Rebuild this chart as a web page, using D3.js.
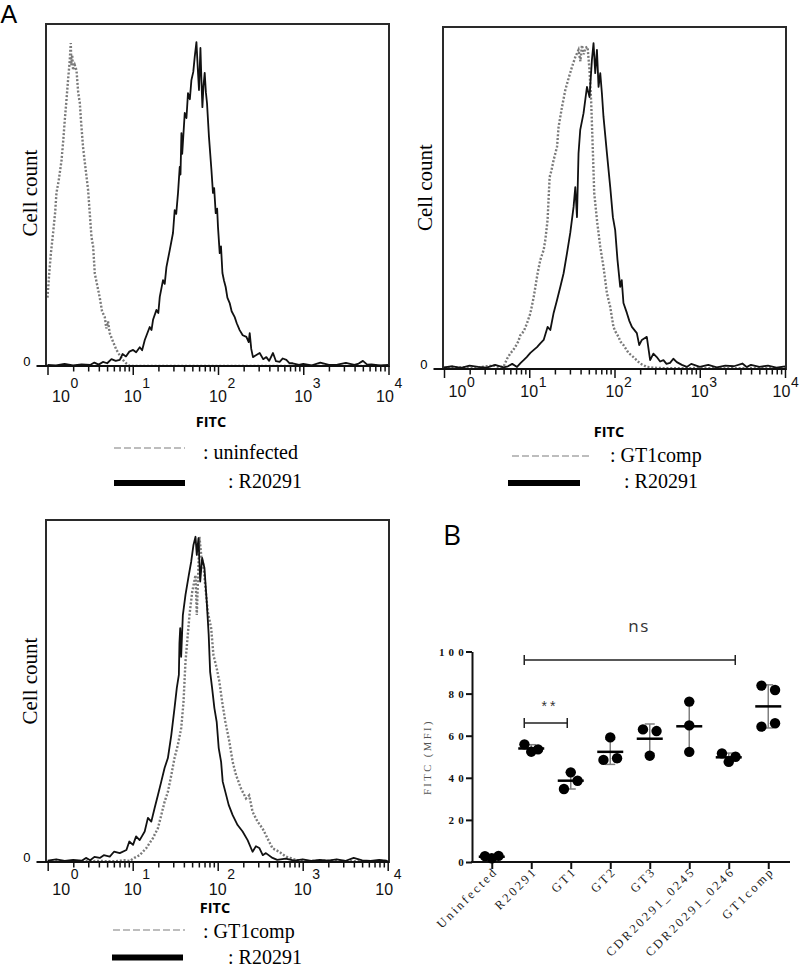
<!DOCTYPE html>
<html><head><meta charset="utf-8">
<script src="https://cdn.jsdelivr.net/npm/d3@7"></script>
<style>body{margin:0;background:#fff;}svg{display:block;}</style>
</head><body>
<svg id="c" width="800" height="968"></svg>
<script>
// ---------- DATA ----------
// Histogram curves: [log10(FITC), relative cell count (0-100 of frame height)]
const p1Uninfected = [[0.00,20],[0.02,27],[0.04,33],[0.066,39],[0.09,45],[0.105,50.6],[0.13,54],[0.164,60],[0.185,66],[0.203,72],[0.22,77],[0.241,83.6],[0.26,89],[0.273,94.4],[0.28,88],[0.29,91],[0.300,86.5],[0.32,88],[0.340,86.5],[0.36,80],[0.379,76.9],[0.395,71],[0.417,64],[0.445,58],[0.476,51.5],[0.516,37.7],[0.535,35],[0.555,27],[0.58,24],[0.613,20],[0.64,16],[0.672,14.3],[0.69,11],[0.71,13],[0.730,9.6],[0.77,7],[0.809,4.7],[0.85,3],[0.883,1.8],[0.93,0.6],[0.965,0],[4.0,0]];
const p1R20291 = [[0.0,0.3],[0.1,0.2],[0.2,0.6],[0.3,0.2],[0.4,0.5],[0.5,0.3],[0.55,1.0],[0.6,0.4],[0.65,1.2],[0.7,0.8],[0.75,2.0],[0.8,1.5],[0.848,1.8],[0.88,3.5],[0.92,2.8],[0.96,4.2],[1.004,4.7],[1.04,4.0],[1.082,5.5],[1.11,4.6],[1.141,7.6],[1.17,9.5],[1.199,11.4],[1.22,10.5],[1.238,13.5],[1.278,16.4],[1.30,15.5],[1.317,20.2],[1.355,25.1],[1.375,24],[1.395,28.9],[1.434,33.9],[1.472,38.9],[1.492,45.6],[1.51,44.5],[1.531,50.6],[1.551,58.2],[1.56,56],[1.571,68.1],[1.58,62],[1.610,74],[1.63,72.5],[1.648,79.8],[1.67,78],[1.688,83.6],[1.71,86],[1.727,90.4],[1.747,94.7],[1.765,86],[1.777,80.7],[1.794,93],[1.805,84],[1.817,75.7],[1.83,82],[1.844,85.7],[1.858,80],[1.871,76.9],[1.894,67],[1.923,57.3],[1.941,50.6],[1.955,52],[1.973,44.7],[1.99,46],[2.000,40.6],[2.020,33],[2.035,35],[2.052,27.2],[2.070,25],[2.090,23.1],[2.11,20],[2.137,18.4],[2.16,16],[2.196,14.3],[2.22,12.5],[2.254,10.5],[2.29,9],[2.333,8.5],[2.36,7],[2.372,9.6],[2.39,5],[2.410,2.6],[2.45,3.2],[2.489,3.8],[2.53,2.0],[2.567,2.6],[2.60,1.5],[2.645,3.8],[2.68,1.4],[2.723,1.2],[2.76,2.2],[2.802,1.8],[2.84,0.8],[2.876,0.8],[2.95,0.3],[3.0,0.6],[3.1,0.2],[3.2,1.0],[3.3,0.3],[3.4,0.4],[3.5,0.9],[3.6,0.3],[3.65,0.7],[3.7,1.5],[3.75,0.4],[3.8,0.5],[3.9,0.2],[4.0,0.3]];
const p2GT1comp = [[0.0,0.3],[0.2,0.5],[0.35,0.3],[0.5,0.8],[0.6,1.0],[0.65,0.5],[0.700,0.7],[0.74,3],[0.779,4.6],[0.81,5.5],[0.837,6.5],[0.87,8],[0.896,9.9],[0.935,11],[0.974,13.4],[1.013,16.3],[1.052,21],[1.098,28],[1.130,31.9],[1.169,34.8],[1.19,38],[1.215,43.6],[1.239,56.1],[1.26,58],[1.286,61.1],[1.326,65],[1.344,70.8],[1.384,76.6],[1.423,81.6],[1.461,85],[1.501,88.3],[1.540,91.2],[1.578,93.3],[1.60,90],[1.618,94.7],[1.64,92],[1.657,93.9],[1.684,94.2],[1.707,87.4],[1.727,77.7],[1.747,63.1],[1.762,51.5],[1.794,43.6],[1.833,35.7],[1.871,29.8],[1.911,22.2],[1.950,18.1],[1.988,12.3],[2.01,11],[2.047,9.4],[2.07,8],[2.105,7],[2.164,4.7],[2.222,3.5],[2.301,1.6],[2.379,0.6],[2.5,0.3],[2.7,0.2],[3.0,0.3],[3.3,0.2],[3.6,0.3],[4.0,0.2]];
const p2R20291 = [[0.0,0.5],[0.1,0.8],[0.2,0.3],[0.3,1.0],[0.4,0.6],[0.5,0.4],[0.6,1.2],[0.7,0.5],[0.75,0.8],[0.8,1.5],[0.857,0.6],[0.9,1.8],[0.934,2.6],[0.97,3.5],[1.013,4.7],[1.05,5.5],[1.091,6.4],[1.13,7.5],[1.169,8.5],[1.215,12.3],[1.247,11.4],[1.286,16.4],[1.326,20.2],[1.364,24],[1.403,28],[1.443,33.9],[1.481,39.8],[1.520,47.4],[1.540,53.2],[1.560,44.4],[1.578,63.1],[1.598,69.9],[1.637,74.8],[1.677,82.5],[1.707,79.5],[1.735,90.4],[1.754,95.3],[1.774,86.5],[1.794,93.3],[1.813,82.5],[1.833,86.5],[1.852,80.7],[1.871,73.7],[1.911,63.1],[1.950,53.2],[1.981,44.4],[2.008,40.6],[2.035,31.9],[2.067,24],[2.085,26],[2.105,19.3],[2.145,16.4],[2.175,14],[2.204,12.3],[2.262,10.5],[2.29,7],[2.321,8.5],[2.379,9.4],[2.418,2.6],[2.456,4.5],[2.496,3.5],[2.535,2.2],[2.574,2.6],[2.61,1.5],[2.652,1.8],[2.69,3.0],[2.731,2.0],[2.79,1.2],[2.848,0.6],[2.9,1.5],[3.0,0.6],[3.1,1.2],[3.2,0.5],[3.3,1.0],[3.4,0.8],[3.5,1.6],[3.55,0.6],[3.6,1.2],[3.7,0.6],[3.8,1.0],[3.9,0.4],[4.0,0.8]];
const p3GT1comp = [[0.0,0.2],[0.3,0.1],[0.6,0.3],[0.8,0.2],[0.9,0.5],[0.965,0.3],[1.02,1.2],[1.082,2],[1.161,4.1],[1.238,7],[1.297,9.9],[1.336,13.7],[1.375,17.6],[1.414,20.5],[1.454,25.4],[1.492,30.4],[1.531,34.2],[1.571,39.2],[1.598,46.9],[1.621,58.6],[1.641,64.4],[1.668,72.2],[1.700,79],[1.739,83.9],[1.754,72.2],[1.770,83.9],[1.785,95.1],[1.809,88.9],[1.832,86.8],[1.856,80.1],[1.883,73.2],[1.923,68.4],[1.950,60.5],[1.988,56.7],[2.020,52.7],[2.052,46.9],[2.090,41],[2.137,35.2],[2.176,29.3],[2.216,25.4],[2.274,21.5],[2.333,18.6],[2.37,19.5],[2.410,14.7],[2.469,11.8],[2.528,9.8],[2.586,6.9],[2.645,4],[2.723,3],[2.802,1.6],[2.919,0.6],[3.0,0.2],[3.3,0.4],[3.6,0.2],[4.0,0.3]];
const p3R20291 = [[0.0,0.4],[0.1,0.8],[0.2,0.3],[0.3,0.6],[0.4,0.4],[0.45,1.2],[0.5,0.5],[0.55,1.5],[0.613,1.2],[0.66,2.0],[0.730,1.6],[0.78,3.0],[0.848,2.6],[0.926,3.5],[0.96,6.0],[1.004,5.0],[1.04,7.5],[1.082,6.4],[1.141,8.9],[1.179,12.9],[1.219,11.8],[1.258,15.8],[1.297,19.6],[1.336,23.5],[1.375,27.5],[1.414,30.4],[1.454,37.1],[1.492,45],[1.519,50.9],[1.543,54.7],[1.550,64],[1.559,68.4],[1.57,60],[1.590,72.2],[1.621,78.1],[1.660,83.9],[1.688,87.8],[1.715,92.7],[1.739,95.1],[1.754,89.8],[1.774,94.7],[1.794,82],[1.817,88.9],[1.844,86],[1.871,76.1],[1.894,66.4],[1.911,55.6],[1.934,50.9],[1.961,45],[1.988,41],[2.012,33.3],[2.040,29.3],[2.059,23.5],[2.090,20.5],[2.129,16.7],[2.176,13.7],[2.234,10.8],[2.293,8.9],[2.352,6.4],[2.410,3.0],[2.45,4.6],[2.489,4.1],[2.53,2.0],[2.567,2.6],[2.645,1.2],[2.7,0.6],[2.8,1.0],[2.9,0.4],[3.0,0.8],[3.1,0.3],[3.2,0.6],[3.3,0.4],[3.4,0.8],[3.5,0.3],[3.6,1.2],[3.7,0.5],[3.8,0.3],[3.9,0.6],[4.0,0.3]];
const histTickExponents = [0,1,2,3,4];
const histMinorMultipliers = [2,3,4,5,6,7,8,9];

// Panel B
const categories = ["Uninfected","R20291","GT1","GT2","GT3","CDR20291_0245","CDR20291_0246","GT1comp"];
const mfiUninfected = [2.8,1.8,2.9];
const mfiR20291 = [55.9,52.4,53.5];
const mfiGT1 = [34.7,42.6,38.6];
const mfiGT2 = [48.5,59.2,49.3];
const mfiGT3 = [63.0,62.2,50.5];
const mfiCDR0245 = [76.2,64.9,52.3];
const mfiCDR0246 = [51.6,47.6,50.0];
const mfiGT1comp = [83.8,81.7,64.3,65.9];
const mfiSeries = [mfiUninfected,mfiR20291,mfiGT1,mfiGT2,mfiGT3,mfiCDR0245,mfiCDR0246,mfiGT1comp];
const yTicksB = [0,20,40,60,80,100];

// ---------- DRAW ----------
const svg = d3.select("#c");
const serif = "'Liberation Serif','Times New Roman',serif";
const sans = "'Liberation Sans',Arial,sans-serif";

svg.append("text").attr("x",0.5).attr("y",23).attr("font-family",sans).attr("font-size",25).text("A");
svg.append("text").attr("x",443).attr("y",545).attr("font-family","'Open Sans',sans-serif").attr("font-size",28).text("B");

let clipId = 0;
function histPanel(cfg){
  const g = svg.append("g");
  const x = d3.scaleLog().domain([1,1e4]).range([cfg.x0, cfg.x4]);
  const y = d3.scaleLinear().domain([0,100]).range([cfg.axisY, cfg.axisY-342]);
  const id = "clip"+(clipId++);
  svg.append("clipPath").attr("id",id).append("rect")
    .attr("x",cfg.left).attr("y",cfg.top).attr("width",cfg.right-cfg.left).attr("height",cfg.axisY-cfg.top+1);
  const line = d3.line().x(d=>x(Math.pow(10,d[0]))).y(d=>y(d[1]));
  const cg = g.append("g").attr("clip-path",`url(#${id})`);
  cg.append("path").datum(cfg.dotted).attr("d",line).attr("fill","none")
    .attr("stroke","#7a7a7a").attr("stroke-width",2.4).attr("stroke-dasharray","2,1.8");
  cg.append("path").datum(cfg.solid).attr("d",line).attr("fill","none")
    .attr("stroke","#111").attr("stroke-width",1.8).attr("stroke-linejoin","round");
  // frame
  g.append("rect").attr("x",cfg.left).attr("y",cfg.top).attr("width",cfg.right-cfg.left).attr("height",cfg.axisY-cfg.top)
    .attr("fill","none").attr("stroke","#2a2a2a").attr("stroke-width",2);
  // axis line
  g.append("line").attr("x1",cfg.left-9.5).attr("x2",cfg.right).attr("y1",cfg.axisY).attr("y2",cfg.axisY)
    .attr("stroke","#111").attr("stroke-width",2);
  // ticks
  const minor = [];
  histTickExponents.slice(0,4).forEach(e=>histMinorMultipliers.forEach(m=>minor.push(m*Math.pow(10,e))));
  const major = histTickExponents.map(e=>Math.pow(10,e));
  const ma = g.append("g").attr("transform",`translate(0,${cfg.axisY})`)
    .call(d3.axisBottom(x).tickValues(minor).tickSize(5.5).tickSizeOuter(0).tickFormat(""));
  const mj = g.append("g").attr("transform",`translate(0,${cfg.axisY})`)
    .call(d3.axisBottom(x).tickValues(major).tickSize(9).tickSizeOuter(0).tickFormat(""));
  [ma,mj].forEach(a=>{a.select(".domain").remove();a.selectAll(".tick line").attr("stroke","#111").attr("stroke-width",1.5);});
  // tick labels 10^e
  histTickExponents.forEach(e=>{
    const tx = x(Math.pow(10,e)) + (e===0?13.5:(e===4?-3.5:0));
    g.append("text").attr("x",tx).attr("y",cfg.axisY+cfg.baseDy).attr("text-anchor","middle")
      .attr("font-family",sans).attr("font-size",16).attr("fill","#111").text("10");
    g.append("text").attr("x",tx+9.5).attr("y",cfg.axisY+cfg.supDy)
      .attr("font-family",sans).attr("font-size",14).attr("fill","#111").text(e);
  });
  g.append("text").attr("x",cfg.left-15.5).attr("y",cfg.axisY).attr("text-anchor","end")
    .attr("font-family",sans).attr("font-size",13).text("0");
  // y title
  g.append("text").attr("transform",`translate(${cfg.ylabX},${cfg.ylabY}) rotate(-90)`).attr("text-anchor","middle")
    .attr("font-family",serif).attr("font-size",21).text("Cell count");
  // x title
  g.append("text").attr("x",cfg.fitcX).attr("y",cfg.fitcY).attr("text-anchor","middle")
    .attr("font-family","'Open Sans',sans-serif").attr("font-weight","bold").attr("font-size",14.5).text("FITC");
  // legend
  const L = cfg.legend;
  g.append("line").attr("x1",L.d1[0]).attr("x2",L.d1[1]).attr("y1",L.dy).attr("y2",L.dy)
    .attr("stroke","#bdbdbd").attr("stroke-width",2).attr("stroke-dasharray","7,3");
  g.append("text").attr("x",L.dtx).attr("y",L.dty).attr("font-family",serif).attr("font-size",20).text(": "+L.dname);
  g.append("line").attr("x1",L.s1[0]).attr("x2",L.s1[1]).attr("y1",L.sy).attr("y2",L.sy)
    .attr("stroke","#000").attr("stroke-width",6);
  g.append("text").attr("x",L.stx).attr("y",L.sty).attr("font-family",serif).attr("font-size",20).text(": "+L.sname);
}

histPanel({left:46,right:389,top:24,axisY:366,x0:47.5,x4:388.5,baseDy:36,supDy:22,
  dotted:p1Uninfected,solid:p1R20291,ylabX:37,ylabY:193,fitcX:211,fitcY:427,
  legend:{d1:[114,185],dy:448,dtx:203,dty:458.5,dname:"uninfected",s1:[114,185],sy:483,stx:228,sty:487.5,sname:"R20291"}});
histPanel({left:443,right:786,top:27,axisY:369,x0:444,x4:785,baseDy:27.5,supDy:18,
  dotted:p2GT1comp,solid:p2R20291,ylabX:432,ylabY:187.5,fitcX:609,fitcY:436.5,
  legend:{d1:[512,590],dy:456,dtx:610,dty:462,dname:"GT1comp",s1:[508,580],sy:483,stx:624,sty:488,sname:"R20291"}});
histPanel({left:46,right:389,top:520,axisY:862,x0:47.7,x4:387.7,baseDy:33,supDy:16.5,
  dotted:p3GT1comp,solid:p3R20291,ylabX:37,ylabY:681,fitcX:215,fitcY:913,
  legend:{d1:[113,185],dy:930,dtx:203,dty:937.5,dname:"GT1comp",s1:[112,183],sy:957.5,stx:228,sty:964,sname:"R20291"}});

// ---------- Panel B ----------
const xB = d3.scalePoint().domain(categories).range([472,788]).padding(0.5);
const yB = d3.scaleLinear().domain([0,100]).range([862,651.5]);
const gB = svg.append("g");

const yAx = gB.append("g").attr("transform","translate(472,0)")
  .call(d3.axisLeft(yB).tickValues(yTicksB).tickSize(6).tickSizeOuter(0));
yAx.select(".domain").attr("stroke","#111").attr("stroke-width",2);
yAx.selectAll(".tick line").attr("stroke","#111").attr("stroke-width",2);
yAx.selectAll(".tick text").attr("x",-4).attr("font-family",serif).attr("font-weight","bold")
  .attr("font-size",11).attr("letter-spacing",4.2).attr("fill","#111");

const xAx = gB.append("g").attr("transform","translate(0,862)")
  .call(d3.axisBottom(xB).tickSize(7).tickSizeOuter(0).tickFormat(""));
xAx.select(".domain").remove();
xAx.selectAll(".tick line").attr("stroke","#111").attr("stroke-width",2);
gB.append("line").attr("x1",471).attr("x2",790).attr("y1",862).attr("y2",862).attr("stroke","#111").attr("stroke-width",2);

categories.forEach(c=>{
  gB.append("text").attr("transform",`translate(${xB(c)+7},${872}) rotate(-45)`).attr("text-anchor","end")
    .attr("font-family",serif).attr("font-size",12.5).attr("letter-spacing",2.5).attr("fill","#1a1a1a").text(c);
});

gB.append("text").attr("transform","translate(431,757) rotate(-90)").attr("text-anchor","middle")
  .attr("font-family",serif).attr("font-size",10.5).attr("letter-spacing",2.5).attr("fill","#555").text("FITC (MFI)");

function jitterOffsets(vals, thresh, w){
  const idx = vals.map((v,i)=>i).sort((a,b)=>vals[a]-vals[b]);
  const groups=[]; let cur=[idx[0]];
  for(let k=1;k<idx.length;k++){
    if(vals[idx[k]]-vals[idx[k-1]]<thresh) cur.push(idx[k]); else {groups.push(cur);cur=[idx[k]];}
  }
  groups.push(cur);
  const off = new Array(vals.length).fill(0);
  groups.forEach(gr=>{gr.sort((a,b)=>a-b);const n=gr.length;gr.forEach((id,j)=>{off[id]=n===1?0:-w+2*w*j/(n-1);});});
  return off;
}

categories.forEach((c,i)=>{
  const vals = mfiSeries[i];
  const cx = xB(c);
  const m = d3.mean(vals), sd = d3.deviation(vals);
  gB.append("line").attr("x1",cx).attr("x2",cx).attr("y1",yB(m+sd)).attr("y2",yB(m-sd)).attr("stroke","#808080").attr("stroke-width",1.5);
  [m+sd,m-sd].forEach(v=>gB.append("line").attr("x1",cx-5).attr("x2",cx+5).attr("y1",yB(v)).attr("y2",yB(v)).attr("stroke","#808080").attr("stroke-width",1.5));
  const off = jitterOffsets(vals,4.5,6.8);
  vals.forEach((v,k)=>gB.append("circle").attr("cx",cx+off[k]).attr("cy",yB(v)).attr("r",5.2).attr("fill","#000"));
  gB.append("line").attr("x1",cx-13).attr("x2",cx+13).attr("y1",yB(m)).attr("y2",yB(m)).attr("stroke","#000").attr("stroke-width",2.5);
});

function bracket(c1,c2,yv,dx1,dx2){
  const x1=xB(c1)+dx1, x2=xB(c2)+dx2;
  gB.append("path").attr("d",`M${x1},${yv-5}V${yv+5}M${x1},${yv}H${x2}M${x2},${yv-5}V${yv+5}`)
    .attr("fill","none").attr("stroke","#222").attr("stroke-width",1.5);
}
bracket("R20291","CDR20291_0246",660,-7,6.5);
bracket("R20291","GT1",723,-7,-3.5);
gB.append("text").attr("x",550).attr("y",711).attr("text-anchor","middle").attr("font-family",sans)
  .attr("font-size",14).attr("letter-spacing",3).attr("fill","#333").text("**");
gB.append("text").attr("x",639).attr("y",632).attr("text-anchor","middle").attr("font-family","'Open Sans',sans-serif")
  .attr("font-size",17).attr("letter-spacing",1.5).attr("fill","#333").text("ns");
</script>
</body></html>
